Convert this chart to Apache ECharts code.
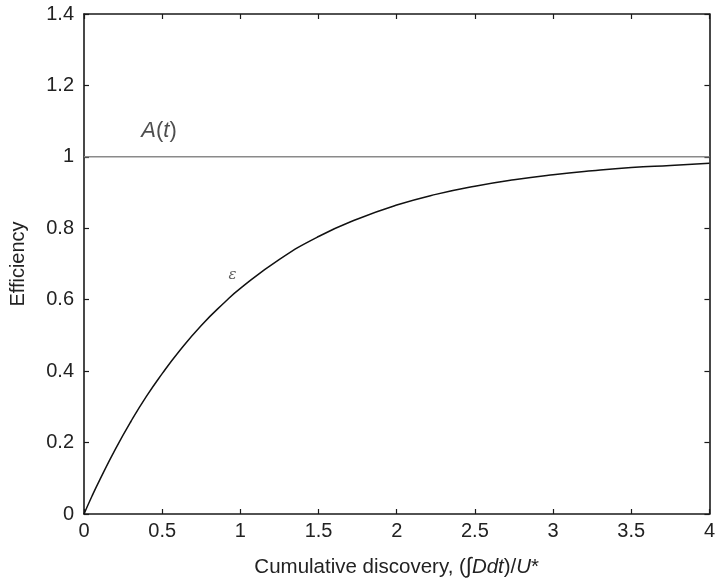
<!DOCTYPE html>
<html>
<head>
<meta charset="utf-8">
<script src="https://cdn.jsdelivr.net/npm/echarts@6/dist/echarts.min.js"></script>
<style>
  html, body { margin: 0; padding: 0; background: #fff; }
  #chart { width: 718px; height: 583px; }
</style>
</head>
<body>
<div id="chart"></div>
<script>
// Cumulative discovery (x) and efficiency epsilon (y)
const discovery = [0, 0.05, 0.1, 0.2, 0.3, 0.4, 0.5, 0.6, 0.75, 0.9, 1.0, 1.25, 1.5, 1.75, 2.0, 2.25, 2.5, 2.75, 3.0, 3.25, 3.5, 3.75, 4.0];
const efficiency = [0, 0.049, 0.095, 0.181, 0.259, 0.33, 0.393, 0.451, 0.528, 0.593, 0.632, 0.713, 0.777, 0.826, 0.865, 0.895, 0.918, 0.936, 0.95, 0.961, 0.97, 0.976, 0.982];
// Asymptote A(t)
const asymptoteX = [0, 4];
const asymptoteY = [1, 1];
// Text annotations: [x, y, text]
const annotations = [
  [0.48, 1.072, 'A'],
  [0.95, 0.67, 'eps']
];
const xTicks = { min: 0, max: 4, interval: 0.5 };
const yTicks = { min: 0, max: 1.4, interval: 0.2 };

const font = '"Liberation Sans", Arial, Helvetica, sans-serif';
const axisColor = '#1a1a1a';
const textColor = '#222';

const chart = echarts.init(document.getElementById('chart'), null, { renderer: 'canvas' });

const baseAxisLine = { show: true, lineStyle: { color: axisColor, width: 1.6 } };
const baseTick = { show: true, inside: true, length: 5, lineStyle: { color: axisColor, width: 1.2 } };

chart.setOption({
  animation: false,
  backgroundColor: '#fff',
  grid: { left: 77, right: 2, top: 14, bottom: 66, containLabel: false },
  xAxis: [
    {
      type: 'value', position: 'bottom',
      min: xTicks.min, max: xTicks.max, interval: xTicks.interval,
      axisLine: Object.assign({ onZero: false }, baseAxisLine),
      axisTick: baseTick,
      splitLine: { show: false },
      axisLabel: { color: textColor, fontFamily: font, fontSize: 20, margin: 7 },
      name: '{n|Cumulative discovery, (}{i|∫}{it|Ddt}{n|)/}{it|U}{n|*}',
      nameLocation: 'middle', nameGap: 42,
      nameTextStyle: {
        rich: {
          n: { fontFamily: font, fontSize: 20.5, color: textColor },
          it: { fontFamily: font, fontSize: 20.5, fontStyle: 'italic', color: textColor },
          i: { fontFamily: font, fontSize: 22, color: textColor }
        }
      }
    },
    {
      type: 'value', position: 'top',
      min: xTicks.min, max: xTicks.max, interval: xTicks.interval,
      axisLine: Object.assign({ onZero: false }, baseAxisLine),
      axisTick: baseTick,
      axisLabel: { show: false },
      splitLine: { show: false }
    }
  ],
  yAxis: [
    {
      type: 'value', position: 'left',
      min: yTicks.min, max: yTicks.max, interval: yTicks.interval,
      axisLine: Object.assign({ onZero: false }, baseAxisLine),
      axisTick: baseTick,
      splitLine: { show: false },
      axisLabel: { color: textColor, fontFamily: font, fontSize: 20, margin: 10 },
      name: 'Efficiency', nameLocation: 'middle', nameGap: 56,
      nameTextStyle: { fontFamily: font, fontSize: 20, color: textColor }
    },
    {
      type: 'value', position: 'right',
      min: yTicks.min, max: yTicks.max, interval: yTicks.interval,
      axisLine: Object.assign({ onZero: false }, baseAxisLine),
      axisTick: baseTick,
      axisLabel: { show: false },
      splitLine: { show: false }
    }
  ],
  series: [
    {
      name: 'A(t)', type: 'line', showSymbol: false, silent: true,
      data: asymptoteX.map((x, i) => [x, asymptoteY[i]]),
      lineStyle: { color: '#8a8a8a', width: 1.5 },
      z: 2
    },
    {
      name: 'efficiency', type: 'line', smooth: true, showSymbol: false, silent: true,
      data: discovery.map((x, i) => [x, efficiency[i]]),
      lineStyle: { color: '#111', width: 1.5 },
      z: 3
    },
    {
      name: 'labels', type: 'scatter', symbolSize: 0, silent: true,
      data: annotations.map(a => ({ value: [a[0], a[1]], key: a[2] })),
      label: {
        show: true, position: 'inside',
        formatter: p => p.data.key === 'A' ? '{it|A}{n|(}{it|t}{n|)}' : '{e|ε}',
        rich: {
          it: { fontFamily: font, fontSize: 22, fontStyle: 'italic', color: textColor },
          n: { fontFamily: font, fontSize: 22, color: textColor },
          e: { fontFamily: '"DejaVu Serif", "Liberation Serif", serif', fontSize: 15, fontStyle: 'italic', color: '#333' }
        }
      },
      z: 4
    }
  ]
});
</script>
</body>
</html>
